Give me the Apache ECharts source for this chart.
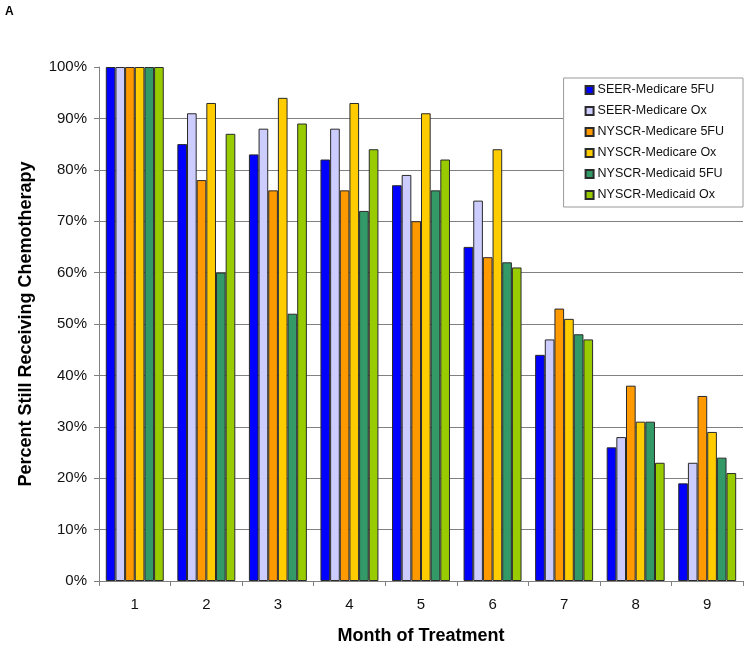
<!DOCTYPE html>
<html>
<head>
<meta charset="utf-8">
<script src="https://cdn.jsdelivr.net/npm/echarts@6/dist/echarts.min.js"></script>
<style>
html,body{margin:0;padding:0;background:#fff;}
#c{width:750px;height:650px;}
</style>
</head>
<body>
<div id="c"></div>
<script>
const months = ['1','2','3','4','5','6','7','8','9'];
const seriesNames = ['SEER-Medicare 5FU','SEER-Medicare Ox','NYSCR-Medicare 5FU','NYSCR-Medicare Ox','NYSCR-Medicaid 5FU','NYSCR-Medicaid Ox'];
const seerMedicare5FU   = [100, 85, 83, 82, 77, 65, 44, 26, 19];
const seerMedicareOx    = [100, 91, 88, 88, 79, 74, 47, 28, 23];
const nyscrMedicare5FU  = [100, 78, 76, 76, 70, 63, 53, 38, 36];
const nyscrMedicareOx   = [100, 93, 94, 93, 91, 84, 51, 31, 29];
const nyscrMedicaid5FU  = [100, 60, 52, 72, 76, 62, 48, 31, 24];
const nyscrMedicaidOx   = [100, 87, 89, 84, 82, 61, 47, 23, 21];
const yTicks = [0,10,20,30,40,50,60,70,80,90,100];

const values = [seerMedicare5FU, seerMedicareOx, nyscrMedicare5FU, nyscrMedicareOx, nyscrMedicaid5FU, nyscrMedicaidOx];
const colors = ['#0000FF','#CCCCFF','#FF9900','#FFCC00','#339966','#99CC00'];
const font = 'Liberation Sans, Arial, sans-serif';

const chart = echarts.init(document.getElementById('c'), null, {renderer:'canvas'});
const gridColors = yTicks.map(v => (v === 100 ? 'rgba(0,0,0,0)' : '#808080'));

chart.setOption({
  backgroundColor: '#fff',
  animation: false,
  graphic: [{
    type: 'text', left: 5, top: 6,
    style: {text: 'A', font: 'bold 12px ' + font, fill: '#000'}
  }],
  grid: {left: 99, right: 7, top: 67, bottom: 67},
  legend: {
    orient: 'vertical',
    right: 7, top: 78,
    data: seriesNames,
    itemWidth: 8, itemHeight: 8,
    itemGap: 7,
    padding: [5, 19, 5, 21],
    borderColor: '#999', borderWidth: 1,
    backgroundColor: '#fff',
    icon: 'rect',
    textStyle: {fontFamily: font, fontSize: 12.5, color: '#111', lineHeight: 14, padding: [0,0,0,-1]}
  },
  xAxis: {
    type: 'category',
    data: months,
    name: 'Month of Treatment',
    nameLocation: 'middle',
    nameGap: 46,
    nameTextStyle: {fontFamily: font, fontSize: 18, fontWeight: 'bold', color: '#000'},
    axisLine: {lineStyle: {color: '#808080', width: 1}},
    axisTick: {show: true, length: 5, lineStyle: {color: '#808080'}},
    axisLabel: {fontFamily: font, fontSize: 15, color: '#111', margin: 16}
  },
  yAxis: {
    type: 'value',
    min: 0, max: 100, interval: 10,
    name: 'Percent Still Receiving Chemotherapy',
    nameLocation: 'middle',
    nameGap: 64,
    nameTextStyle: {fontFamily: font, fontSize: 18, fontWeight: 'bold', color: '#000'},
    axisLine: {show: true, lineStyle: {color: '#808080', width: 1}},
    axisTick: {show: true, length: 5, lineStyle: {color: '#808080'}},
    axisLabel: {fontFamily: font, fontSize: 15, color: '#111', margin: 12, formatter: '{value}%'},
    splitLine: {show: true, lineStyle: {color: gridColors, width: 1}}
  },
  series: seriesNames.map((n, i) => ({
    name: n,
    type: 'bar',
    data: values[i],
    barGap: '0%',
    barCategoryGap: '19%',
    itemStyle: {color: colors[i], borderColor: '#2a2a2a', borderWidth: 1}
  }))
});
</script>
</body>
</html>
